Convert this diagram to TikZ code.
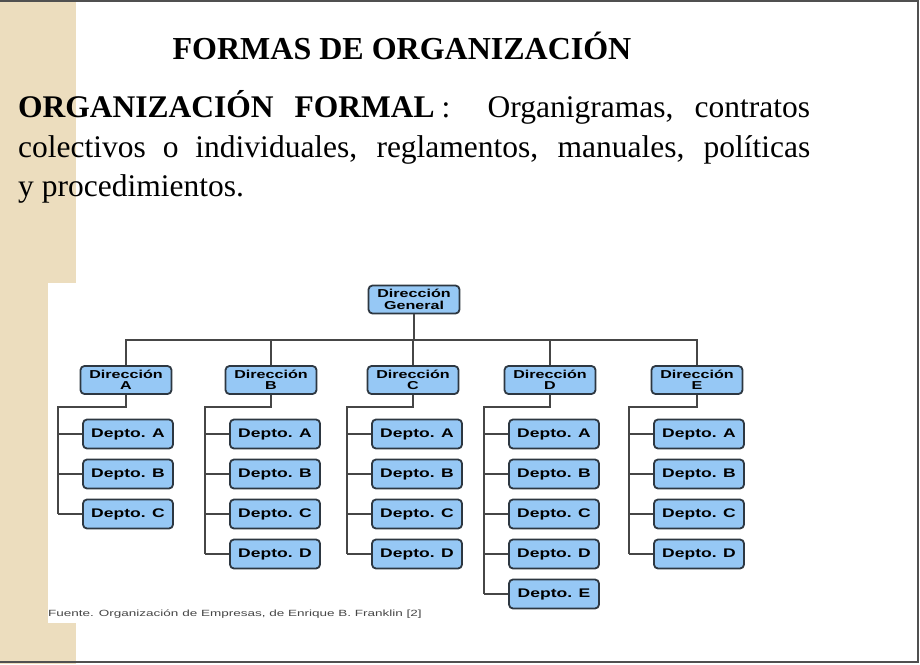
\documentclass[tikz,border=0pt]{standalone}
\usepackage{fontspec}
\setmainfont{Liberation Serif}
\setsansfont{Liberation Sans}
\usepackage{graphicx}
\definecolor{beige}{RGB}{236,221,190}
\definecolor{boxfill}{RGB}{150,200,245}
\definecolor{boxline}{RGB}{45,55,65}
\definecolor{linecol}{RGB}{70,70,70}
\definecolor{framecol}{RGB}{80,80,80}
\definecolor{srccol}{RGB}{70,70,70}
\newcommand\wide[1]{\scalebox{1.4}[1]{#1}}
\tikzset{
  dirbox/.style={draw=boxline, line width=1.8pt, fill=boxfill, rounded corners=4pt,
    minimum width=91pt, minimum height=28pt, inner sep=0pt, align=center,
    font=\fontsize{11.5}{11.5}\selectfont\sffamily\bfseries},
  deptbox/.style={draw=boxline, line width=1.8pt, fill=boxfill, rounded corners=4pt,
    minimum width=90pt, minimum height=29pt, inner sep=0pt,
    font=\fontsize{12.5}{13}\selectfont\sffamily\bfseries},
  conn/.style={draw=linecol, line width=1.5pt},
  bodytext/.style={anchor=base west, inner sep=0pt, font=\fontsize{31.5}{38}\selectfont}
}
\begin{document}
\begin{tikzpicture}[x=1pt,y=-1pt]
\useasboundingbox (0,0) rectangle (920,664);
\fill[white] (0,0) rectangle (920,664);
\fill[beige] (0,0) rectangle (76,664);
\fill[white] (48,283) rectangle (760,623);
% frame
\draw[framecol, line width=2pt] (0,1) -- (918,1) -- (918,662) -- (0,662);

% title and text
\node[anchor=base, inner sep=0pt, font=\fontsize{32}{36}\selectfont\bfseries] (title) at (402,59) {FORMAS DE ORGANIZACIÓN};
\node[bodytext] (l1) at (18,117) {\makebox[792pt][s]{\textbf{ORGANIZACIÓN}\hspace{21pt}\textbf{FORMAL}\hspace{7pt}:\hspace{26pt plus 1fill}Organigramas,\hspace{10pt plus 1fill}contratos}};
\node[bodytext] (l2) at (18,157) {\makebox[792pt][s]{colectivos o individuales, reglamentos, manuales, políticas}};
\node[bodytext] (l3) at (18,196) {y procedimientos.};

% chart
\node[dirbox] (dg) at (414,299.5) {\wide{Dirección}\\\wide{General}};
\node[dirbox] (da) at (126,380) {\wide{Dirección}\\\wide{A}};
\node[dirbox] (db) at (271,380) {\wide{Dirección}\\\wide{B}};
\node[dirbox] (dc) at (413,380) {\wide{Dirección}\\\wide{C}};
\node[dirbox] (dd) at (550,380) {\wide{Dirección}\\\wide{D}};
\node[dirbox] (de) at (697,380) {\wide{Dirección}\\\wide{E}};
\coordinate (bus) at (0,340);
\draw[conn] (da.north) -- (da.north |- bus) -- (de.north |- bus) -- (de.north);
\draw[conn] (dg.south) -- (dg.south |- bus);
\draw[conn] (db.north) -- (db.north |- bus);
\draw[conn] (dc.north) -- (dc.north |- bus);
\draw[conn] (dd.north) -- (dd.north |- bus);

\foreach \c/\vx/\n in {a/58/3,b/205/4,c/347/4,d/484/5,e/629/4}{
  \coordinate (t\c) at (\vx,407);
  \foreach \i in {1,...,\n}{
    \node[deptbox] (\c\i) at (\vx+70,394+40*\i) {\wide{Depto. \ifcase\i\or A\or B\or C\or D\or E\fi}};
    \draw[conn] (t\c |- \c\i.west) -- (\c\i.west);
  }
  \draw[conn] (d\c.south) -- (d\c.south |- t\c) -- (t\c) -- (t\c |- \c\n.west);
}

\node[anchor=base west, inner sep=0pt, text=srccol, font=\fontsize{9}{10}\selectfont\sffamily] (src) at (48,616) {\scalebox{1.5}[1]{Fuente. Organización de Empresas, de Enrique B. Franklin [2]}};
\end{tikzpicture}
\end{document}
